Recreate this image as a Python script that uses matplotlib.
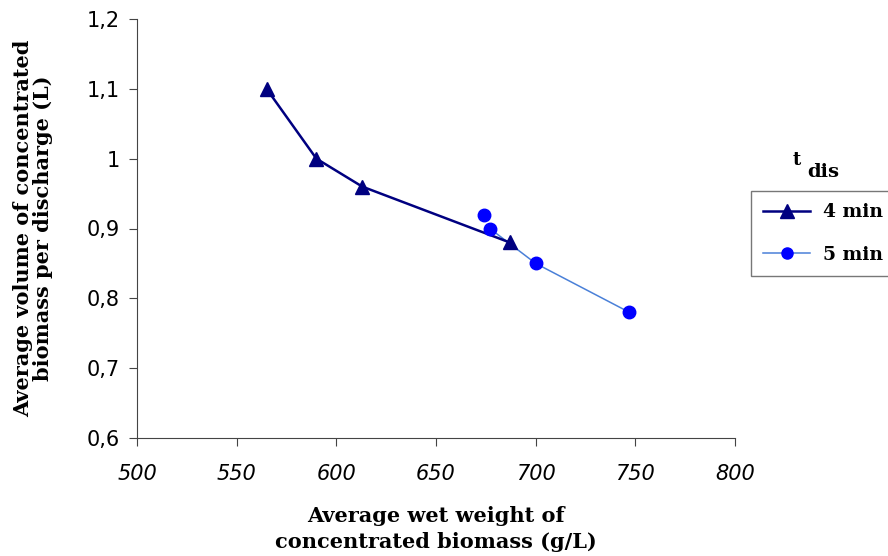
import numpy as np
import matplotlib.pyplot as plt
import matplotlib as mpl

# data
x_4min = [565, 590, 613, 687]
y_4min = [1.10, 1.00, 0.96, 0.88]
x_5min = [674, 677, 700, 747]
y_5min = [0.92, 0.90, 0.85, 0.78]

xticks = [500, 550, 600, 650, 700, 750, 800]
yticks = [0.6, 0.7, 0.8, 0.9, 1.0, 1.1, 1.2]
ytick_labels = ["0,6", "0,7", "0,8", "0,9", "1", "1,1", "1,2"]

fig = plt.figure(figsize=(8.88, 5.56), dpi=100)
ax = fig.add_axes([137 / 888, 1 - 438 / 556, 598 / 888, 419 / 556])

l4, = ax.plot(x_4min, y_4min, color="#000080", lw=1.8, marker="^", ms=10,
              mfc="#000080", mec="#000080", label="4 min", zorder=3)
ax.plot(x_5min[1:], y_5min[1:], color="#4a80d8", lw=1.1, zorder=2)
ax.plot(x_5min, y_5min, ls="none", marker="o", ms=9, mfc="#0000ff",
        mec="#0000ff", zorder=4)
h5, = ax.plot([], [], color="#4a80d8", lw=1.1, marker="o", ms=8,
              mfc="#0000ff", mec="#0000ff", label="5 min")

ax.set_xlim(500, 800)
ax.set_ylim(0.6, 1.2)
ax.set_xticks(xticks)
ax.set_xticklabels([str(v) for v in xticks], fontfamily="DejaVu Sans",
                   fontsize=15, style="italic")
ax.set_yticks(yticks)
ax.set_yticklabels(ytick_labels, fontfamily="DejaVu Sans", fontsize=15)
ax.tick_params(direction="out", length=5.5, color="#444444")
ax.tick_params(axis="x", pad=13)
ax.tick_params(axis="y", pad=7)
for s in ["top", "right"]:
    ax.spines[s].set_visible(False)
for s in ["left", "bottom"]:
    ax.spines[s].set_color("#444444")

ax.set_xlabel("Average wet weight of\nconcentrated biomass (g/L)",
              fontfamily="DejaVu Serif", fontweight="bold", fontsize=15,
              linespacing=1.4, labelpad=16)
ax.set_ylabel("Average volume of concentrated\nbiomass per discharge (L)",
              fontfamily="DejaVu Serif", fontweight="bold", fontsize=15,
              linespacing=1.0, labelpad=24)

leg = fig.legend(handles=[l4, h5], loc="upper left",
                 bbox_to_anchor=(751 / 888, 1 - 191 / 556),
                 prop=dict(family="DejaVu Serif", weight="bold", size=13.5),
                 frameon=True, fancybox=False, edgecolor="#555555",
                 handlelength=2.5, handletextpad=0.7, borderpad=0.65,
                 labelspacing=1.3, borderaxespad=0)
leg.get_frame().set_linewidth(1.0)
fig.text(797 / 888, 1 - 160 / 556, "t", ha="center", va="center",
         fontfamily="DejaVu Serif", fontweight="bold", fontsize=13)
fig.text(823 / 888, 1 - 172 / 556, "dis", ha="center", va="center",
         fontfamily="DejaVu Serif", fontweight="bold", fontsize=14)

fig.savefig("out.png", dpi=100)
